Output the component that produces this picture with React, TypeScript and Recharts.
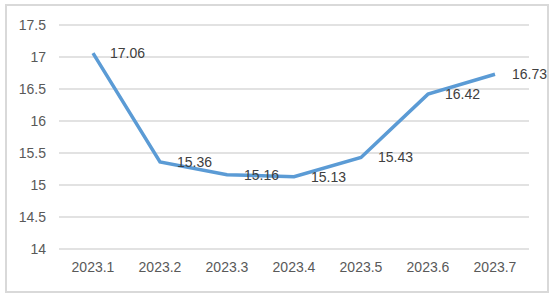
import React from 'react';
import { LineChart, Line, XAxis, YAxis, CartesianGrid, LabelList } from 'recharts';

const months = ['2023.1', '2023.2', '2023.3', '2023.4', '2023.5', '2023.6', '2023.7'];
const values = [17.06, 15.36, 15.16, 15.13, 15.43, 16.42, 16.73];
const yTicks = [14, 14.5, 15, 15.5, 16, 16.5, 17, 17.5];

const data = months.map((m, i) => ({ month: m, value: values[i] }));

const font = '"Liberation Sans", Arial, sans-serif';

export default function App() {
  return (
    <div style={{ position: 'absolute', left: 0, top: 0, width: 554, height: 302, background: '#fff', fontFamily: font }}>
      <div
        style={{
          position: 'absolute',
          left: 5,
          top: 4,
          width: 544,
          height: 289,
          border: '2px solid #d9d9d9',
          boxSizing: 'border-box',
        }}
      />
      <div style={{ position: 'absolute', left: 0, top: 0 }}>
        <LineChart width={554} height={302} data={data} margin={{ top: 25, right: 25, left: 0, bottom: 23 }}>
          <CartesianGrid vertical={false} stroke="#d9d9d9" strokeWidth={1.5} />
          <XAxis
            dataKey="month"
            axisLine={false}
            tickLine={false}
            tickSize={0}
            tickMargin={13}
            height={30}
            padding={{ left: 34, right: 34 }}
            tick={{ fill: '#595959', fontSize: 14, fontFamily: font }}
          />
          <YAxis
            domain={[14, 17.5]}
            ticks={yTicks}
            width={59}
            axisLine={false}
            tickLine={false}
            tickSize={0}
            tickMargin={13}
            tick={{ fill: '#595959', fontSize: 14, fontFamily: font }}
          />
          <Line
            type="linear"
            dataKey="value"
            stroke="#5b9bd5"
            strokeWidth={3.5}
            dot={false}
            isAnimationActive={false}
          >
            <LabelList dataKey="value" position="right" offset={17} fill="#404040" fontSize={14} fontFamily={font} />
          </Line>
        </LineChart>
      </div>
    </div>
  );
}
